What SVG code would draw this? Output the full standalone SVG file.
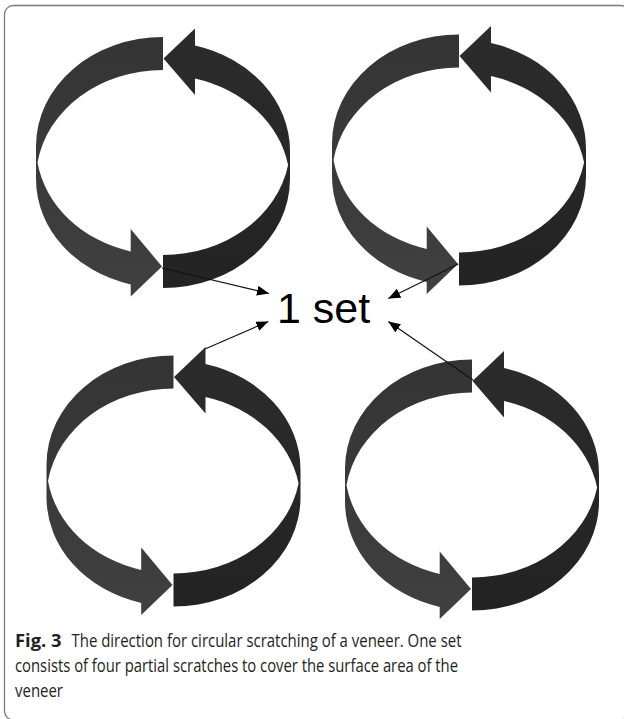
<svg xmlns="http://www.w3.org/2000/svg" xmlns:xlink="http://www.w3.org/1999/xlink" width="624" height="719" viewBox="0 0 624 719">
  <style>
    .frame { fill: #ffffff; stroke: #7a7a7a; stroke-width: 1.3; }
    .half-l { fill: url(#shadeL); }
    .half-r { fill: url(#shadeR); }
    .link { stroke: #111111; stroke-width: 1.2; fill: none; marker-end: url(#head); }
    .label { font-family: "Liberation Sans", Arial, sans-serif; font-size: 43px; fill: #000000; }
    .cap { font-family: "Open Sans", "Noto Sans", sans-serif; font-size: 18px; fill: #231f20; }
    .cap-b { font-weight: bold; }
  </style>
  <defs>
    <linearGradient id="shadeL" x1="0" y1="0" x2="0" y2="1">
      <stop offset="0" stop-color="#343434"/>
      <stop offset="1" stop-color="#404040"/>
    </linearGradient>
    <linearGradient id="shadeR" x1="0" y1="0" x2="0" y2="1">
      <stop offset="0" stop-color="#2c2c2c"/>
      <stop offset="1" stop-color="#232323"/>
    </linearGradient>
    <marker id="head" viewBox="0 0 12 10" refX="12" refY="5" markerWidth="12" markerHeight="10" markerUnits="userSpaceOnUse" orient="auto">
      <path d="M0,0 L12,5 L0,10 Z" fill="#000000"/>
    </marker>
    <!-- Ribbon ring drawn as two curved arrows; local origin = centre of the upper rim ellipse -->
    <path id="arrowL" d="M0,-109 A127,109 0 0 0 -127,0 L-127,33 A127,109 0 0 0 -32.3,138.4 L-32.3,150.5 L-1,120.5 L-32.3,83 L-32.3,105.4 A127,109 0 0 1 -125.5,16.5 A127,109 0 0 1 0,-76 Z"/>
    <path id="arrowR" d="M0,109 A127,109 0 0 0 125.1,19 A127,109 0 0 0 32,-67.5 L32,-51 L0.5,-87.5 L32,-117.5 L32,-100.5 A127,109 0 0 1 127,5 L127,33 A127,109 0 0 1 0,142 Z"/>
  </defs>

  <rect class="frame" x="4.5" y="5.5" width="625" height="714.5" rx="9" ry="9"/>

  <g id="ring-top-left" transform="translate(163,146)">
    <use xlink:href="#arrowL" class="half-l"/>
    <use xlink:href="#arrowR" class="half-r"/>
  </g>
  <g id="ring-top-right" transform="translate(459,143.5)">
    <use xlink:href="#arrowL" class="half-l"/>
    <use xlink:href="#arrowR" class="half-r"/>
  </g>
  <g id="ring-bottom-left" transform="translate(173.5,464.5)">
    <use xlink:href="#arrowL" class="half-l"/>
    <use xlink:href="#arrowR" class="half-r"/>
  </g>
  <g id="ring-bottom-right" transform="translate(472,468.5)">
    <use xlink:href="#arrowL" class="half-l"/>
    <use xlink:href="#arrowR" class="half-r"/>
  </g>

  <g id="label-set">
    <text class="label" x="277" y="323">1 set</text>
  </g>

  <g id="connectors">
    <line class="link" x1="162" y1="268" x2="269" y2="293.5"/>
    <line class="link" x1="458.3" y1="264" x2="388.3" y2="298.5"/>
    <line class="link" x1="205" y1="349" x2="268.3" y2="321.5"/>
    <line class="link" x1="473" y1="380" x2="388.3" y2="321.5"/>
  </g>

  <g id="caption">
    <text class="cap cap-b" x="15" y="647" textLength="46.5" lengthAdjust="spacingAndGlyphs">Fig. 3</text>
    <text class="cap" x="71.5" y="647" textLength="390" lengthAdjust="spacingAndGlyphs">The direction for circular scratching of a veneer. One set</text>
    <text class="cap" x="15" y="672" textLength="443" lengthAdjust="spacingAndGlyphs">consists of four partial scratches to cover the surface area of the</text>
    <text class="cap" x="15" y="696.5" textLength="48" lengthAdjust="spacingAndGlyphs">veneer</text>
  </g>
</svg>
